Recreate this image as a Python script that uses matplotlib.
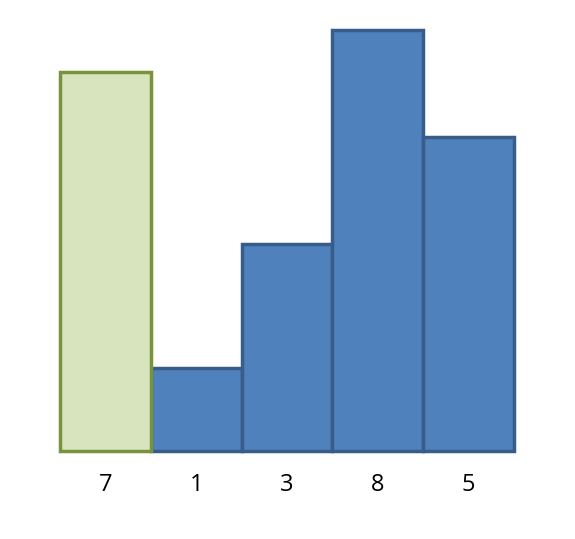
"""Bar chart with one highlighted bar."""

import matplotlib
matplotlib.use("Agg")
import matplotlib.pyplot as plt

labels = ["7", "1", "3", "8", "5"]
heights = [9.0, 1.97, 4.92, 10.0, 7.46]
highlight = [True, False, False, False, False]

fig = plt.figure(figsize=(5.75, 5.39), dpi=100)
ax = fig.add_axes([0.1043, 0.1633, 0.7896, 0.781])

for i, (h, hl) in enumerate(zip(heights, highlight)):
    if hl:
        face, edge = "#D7E4BD", "#77933C"
    else:
        face, edge = "#4F81BD", "#385D8A"
    ax.bar(i, h, width=1.0, color=face, edgecolor=edge, linewidth=2.5,
           zorder=3 if hl else 2, clip_on=False)

ax.set_xlim(-0.5, len(heights) - 0.5)
ax.set_ylim(0, max(heights))
ax.set_xticks(range(len(labels)))
ax.set_xticklabels(labels, fontsize=17, family=["Open Sans", "DejaVu Sans"])
ax.tick_params(axis="x", length=0, pad=16)
ax.set_yticks([])
for s in ax.spines.values():
    s.set_visible(False)

fig.savefig("out.png", dpi=100)
